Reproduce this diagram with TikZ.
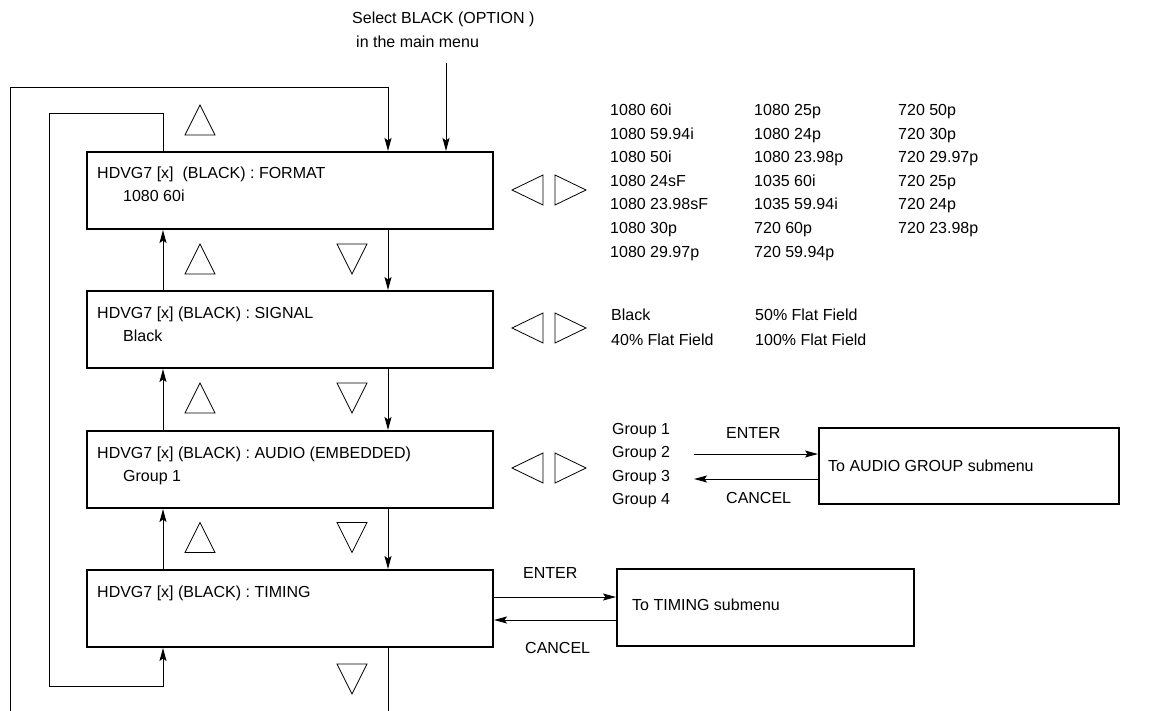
\documentclass[tikz,border=0pt]{standalone}
\usepackage{fontspec}
\setmainfont{Liberation Sans}
\usetikzlibrary{arrows.meta,calc}
\begin{document}
\begin{tikzpicture}[x=1pt,y=-1pt,
  txt/.style={font=\fontsize{16}{19}\selectfont, inner sep=0pt, anchor=base west},
  menubox/.style={draw, line width=2pt, minimum width=406pt, minimum height=77pt, anchor=north west, inner sep=0pt},
  subbox/.style={draw, line width=2pt, anchor=north west, inner sep=0pt},
  conn/.style={line width=1pt, -{Stealth[length=13pt,width=7pt,inset=2.5pt]}},
  plain/.style={line width=1pt},
  tri/.style={draw, line width=0.8pt, line join=miter}
]
\useasboundingbox (0,0) rectangle (1155,711);

% menu boxes
\node[menubox] (fmt) at (86,151) {};
\node[menubox] (sig) at (86,290) {};
\node[menubox] (aud) at (86,430) {};
\node[menubox] (tim) at (86,569) {};

\node[txt] (fmtT) at (97,179) {HDVG7 [x]\ \ (BLACK) : FORMAT};
\node[txt] (fmtV) at (123,202) {1080 60i};
\node[txt] (sigT) at (97,318) {HDVG7 [x] (BLACK) : SIGNAL};
\node[txt] (sigV) at (123,341) {Black};
\node[txt] (audT) at (97,458) {HDVG7 [x] (BLACK) : AUDIO (EMBEDDED)};
\node[txt] (audV) at (123,481) {Group 1};
\node[txt] (timT) at (97,597) {HDVG7 [x] (BLACK) : TIMING};

% submenu boxes
\node[subbox, minimum width=300pt, minimum height=76pt] (audsub) at (818,427) {};
\node[txt] (audsubT) at (828,471) {To AUDIO GROUP submenu};
\node[subbox, minimum width=297pt, minimum height=77pt] (timsub) at (616,568) {};
\node[txt] (timsubT) at (632,610) {To TIMING submenu};

% enter / cancel labels
\node[txt] (aEnter) at (726,438) {ENTER};
\node[txt] (aCancel) at (726,503) {CANCEL};
\node[txt] (tEnter) at (523,578) {ENTER};
\node[txt] (tCancel) at (525,653) {CANCEL};

% entry text
\node[txt] (sel1) at (352,24) {Select BLACK (OPTION )};
\node[txt] (sel2) at (356,48) {in the main menu};

% lists
\foreach \t [count=\i] in {1080 60i,1080 59.94i,1080 50i,1080 24sF,1080 23.98sF,1080 30p,1080 29.97p}
  \node[txt] (fa\i) at (610,{116+(\i-1)*23.5}) {\t};
\foreach \t [count=\i] in {1080 25p,1080 24p,1080 23.98p,1035 60i,1035 59.94i,720 60p,720 59.94p}
  \node[txt] (fb\i) at (754,{116+(\i-1)*23.5}) {\t};
\foreach \t [count=\i] in {720 50p,720 30p,720 29.97p,720 25p,720 24p,720 23.98p}
  \node[txt] (fc\i) at (898,{116+(\i-1)*23.5}) {\t};
\node[txt] (sa1) at (611,320) {Black};
\node[txt] (sa2) at (611,345) {40\% Flat Field};
\node[txt] (sb1) at (755,320) {50\% Flat Field};
\node[txt] (sb2) at (755,345) {100\% Flat Field};
\foreach \i in {1,2,3,4}
  \node[txt] (g\i) at (612,{434+(\i-1)*23.5}) {Group \i};

% helper coordinates
\coordinate (dn) at (388,0);
\coordinate (up) at (163,0);
\coordinate (oL) at (10,88);
\coordinate (iL) at (49,114);
\coordinate (ib) at (49,686);
\coordinate (bot) at (0,711);
\coordinate (mm) at (446,63);
\coordinate (ae) at (694,454);
\coordinate (ac) at (694,479);
\coordinate (te) at (0,597);
\coordinate (tc) at (0,620);

% main menu entry
\draw[conn] (mm) -- (fmt.north -| mm);

% down connectors
\draw[conn] (fmt.south -| dn) -- (sig.north -| dn);
\draw[conn] (sig.south -| dn) -- (aud.north -| dn);
\draw[conn] (aud.south -| dn) -- (tim.north -| dn);
% up connectors
\draw[conn] (sig.north -| up) -- (fmt.south -| up);
\draw[conn] (aud.north -| up) -- (sig.south -| up);
\draw[conn] (tim.north -| up) -- (aud.south -| up);

% loops
\draw[plain] (tim.south -| dn) -- (bot -| dn);
\draw[conn] (bot -| oL) -- (oL) -- (oL -| dn) -- (fmt.north -| dn);
\draw[conn] (fmt.north -| up) -- (iL -| up) -- (iL) -- (ib) -- (ib -| up) -- (tim.south -| up);

% enter / cancel
\draw[conn] (ae) -- (ae -| audsub.west);
\draw[conn] (ac -| audsub.west) -- (ac);
\draw[conn] (te -| tim.east) -- (te -| timsub.west);
\draw[conn] (tc -| timsub.west) -- (tc -| tim.east);

% up/down key triangles
\foreach \c in {120,259,398,537.5} {
  \draw[tri] (185,\c+15) -- (215,\c+15) -- (200,\c-15) -- cycle;
}
\foreach \c in {259,398,537.5,679} {
  \draw[tri] (337,\c-15) -- (367,\c-15) -- (352,\c+15) -- cycle;
}
% left/right key triangles
\foreach \c in {190,328,468} {
  \draw[tri] (543,\c-15) -- (543,\c+15) -- (512,\c) -- cycle;
  \draw[tri] (555,\c-15) -- (555,\c+15) -- (586,\c) -- cycle;
}
\end{tikzpicture}
\end{document}
